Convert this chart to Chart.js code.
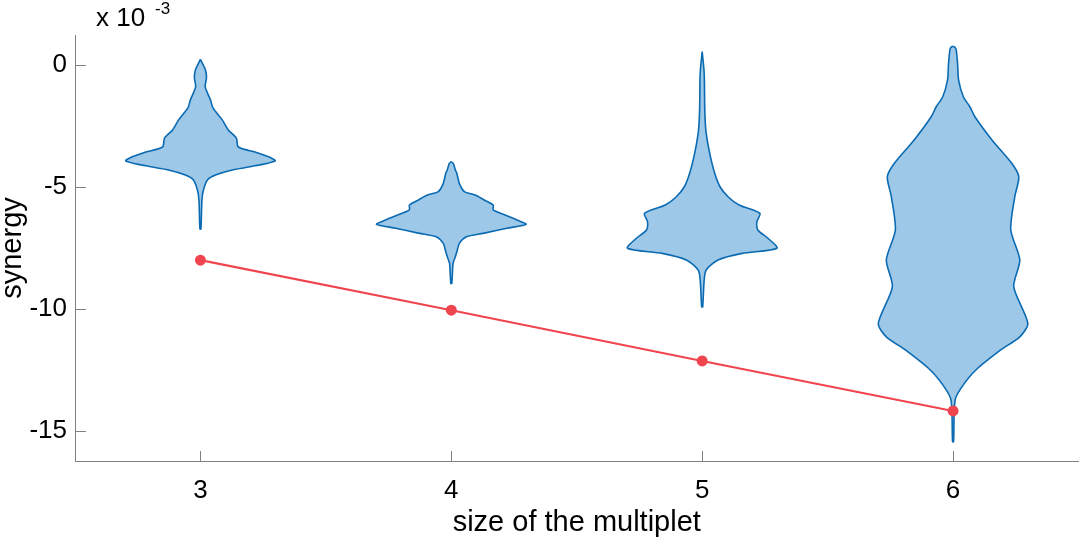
<!DOCTYPE html>
<html>
<head>
<meta charset="utf-8">
<title>synergy vs size of the multiplet</title>
<script src="https://cdn.jsdelivr.net/npm/chart.js@4.4.1/dist/chart.umd.min.js"></script>
<style>
  html, body { margin: 0; padding: 0; background: #fff; }
  #wrap { width: 1084px; height: 542px; }
</style>
</head>
<body>
<div id="wrap"><canvas id="chart" width="1084" height="542"></canvas></div>
<script>
// all synergy values in units of 1e-3 (axis reads "x 10^-3")
const sizes = [3, 4, 5, 6];
const lineValues = [-8.0, -10.05, -12.13, -14.18];
const xTicks = [3, 4, 5, 6];
const yTicks = [-15, -10, -5, 0];

// violin outlines: synergy levels (top -> bottom) and half width in x units
const violin3Levels = [0.23, -0.20, -0.53, -0.90, -1.43, -1.76, -2.25, -2.66, -2.99, -3.36, -3.57, -3.77, -3.93, -4.10, -4.30, -4.51, -4.71, -5.12, -5.53, -6.72];
const violin3Half   = [0.000, 0.020, 0.024, 0.019, 0.040, 0.050, 0.087, 0.111, 0.143, 0.151, 0.218, 0.274, 0.298, 0.234, 0.127, 0.060, 0.028, 0.012, 0.006, 0.002];

const violin4Levels = [-3.96, -4.03, -4.30, -4.44, -4.85, -5.19, -5.33, -5.53, -5.74, -5.94, -6.15, -6.35, -6.53, -6.69, -6.90, -7.04, -7.31, -7.58, -7.86, -8.13, -8.95];
const violin4Half   = [0.000, 0.008, 0.016, 0.022, 0.032, 0.052, 0.095, 0.131, 0.167, 0.167, 0.214, 0.262, 0.298, 0.222, 0.127, 0.060, 0.032, 0.024, 0.016, 0.007, 0.002];

const violin5Levels = [0.55, -0.34, -1.71, -2.30, -2.80, -3.62, -4.44, -4.99, -5.40, -5.74, -6.08, -6.42, -6.76, -7.10, -7.51, -7.72, -7.99, -8.40, -8.81, -9.91];
const violin5Half   = [0.000, 0.008, 0.010, 0.012, 0.016, 0.030, 0.050, 0.071, 0.103, 0.147, 0.230, 0.218, 0.222, 0.262, 0.298, 0.159, 0.063, 0.016, 0.008, 0.002];

const violin6Levels = [0.75, 0.65, 0.07, -0.61, -1.30, -1.71, -2.12, -3.07, -4.03, -4.58, -5.40, -6.76, -7.99, -9.09, -10.59, -11.14, -11.68, -12.50, -13.18, -13.73, -15.44];
const violin6Half   = [0.006, 0.012, 0.018, 0.022, 0.041, 0.067, 0.087, 0.155, 0.234, 0.262, 0.246, 0.230, 0.266, 0.242, 0.298, 0.266, 0.190, 0.091, 0.036, 0.008, 0.002];

const FONT = "'Liberation Sans', Arial, Helvetica, sans-serif";
const VIOLIN_FILL = '#9ec8e8';
const VIOLIN_EDGE = '#0a6ab2';
const RED = '#f0454f';

// closed outline: down the right side, back up the left side
function violinOutline(center, levels, half) {
  const pts = [];
  for (let i = 0; i < levels.length; i++) pts.push({ x: center + half[i], y: levels[i] });
  for (let i = levels.length - 1; i >= 0; i--) pts.push({ x: center - half[i], y: levels[i] });
  pts.push(pts[0]);
  return pts;
}

function violinDataset(center, levels, half) {
  return {
    data: violinOutline(center, levels, half),
    borderColor: VIOLIN_EDGE,
    backgroundColor: VIOLIN_FILL,
    borderWidth: 1.6,
    pointRadius: 0,
    tension: 0.25,
    fill: 'shape',
    order: 1
  };
}

// inward tick marks + the exponent label
const axisDecor = {
  id: 'axisDecor',
  afterDraw(chart) {
    const { ctx, chartArea, scales } = chart;
    ctx.save();
    ctx.strokeStyle = '#808080';
    ctx.lineWidth = 1;
    ctx.beginPath();
    scales.x.ticks.forEach(t => {
      const px = Math.round(scales.x.getPixelForValue(t.value)) + 0.5;
      ctx.moveTo(px, chartArea.bottom);
      ctx.lineTo(px, chartArea.bottom - 10);
    });
    scales.y.ticks.forEach(t => {
      const py = Math.round(scales.y.getPixelForValue(t.value)) + 0.5;
      ctx.moveTo(chartArea.left, py);
      ctx.lineTo(chartArea.left + 11, py);
    });
    ctx.stroke();

    ctx.fillStyle = '#000';
    ctx.textBaseline = 'alphabetic';
    ctx.font = '26px ' + FONT;
    ctx.fillText('x 10', chartArea.left + 21, 26);
    ctx.font = '17px ' + FONT;
    ctx.fillText('-3', chartArea.left + 80, 14);
    ctx.restore();
  }
};

new Chart(document.getElementById('chart'), {
  type: 'line',
  data: {
    datasets: [
      {
        data: sizes.map((s, i) => ({ x: s, y: lineValues[i] })),
        borderColor: RED,
        backgroundColor: RED,
        borderWidth: 2.2,
        pointRadius: 5.5,
        pointBorderWidth: 0,
        pointBackgroundColor: RED,
        fill: false,
        order: 0
      },
      violinDataset(3, violin3Levels, violin3Half),
      violinDataset(4, violin4Levels, violin4Half),
      violinDataset(5, violin5Levels, violin5Half),
      violinDataset(6, violin6Levels, violin6Half)
    ]
  },
  options: {
    responsive: false,
    animation: false,
    layout: { padding: { top: 35, right: 1, left: 0, bottom: 0 } },
    plugins: { legend: { display: false }, tooltip: { enabled: false } },
    scales: {
      x: {
        type: 'linear',
        min: 2.5,
        max: 6.5,
        afterBuildTicks: s => { s.ticks = xTicks.map(v => ({ value: v })); },
        afterFit: s => { s.height = 81; },
        grid: { display: false, drawTicks: false },
        border: { display: true, color: '#808080', width: 1 },
        ticks: { color: '#000', padding: 14, font: { family: FONT, size: 26 } },
        title: {
          display: true,
          text: 'size of the multiplet',
          color: '#000',
          font: { family: FONT, size: 29, lineHeight: 1.2 },
          padding: { top: 0, bottom: 2 }
        }
      },
      y: {
        type: 'linear',
        min: -16.23,
        max: 1.23,
        afterBuildTicks: s => { s.ticks = yTicks.map(v => ({ value: v })); },
        afterFit: s => { s.width = 75; },
        grid: { display: false, drawTicks: false },
        border: { display: true, color: '#808080', width: 1 },
        ticks: { color: '#000', padding: 8, font: { family: FONT, size: 26 } },
        title: {
          display: true,
          text: 'synergy',
          color: '#000',
          font: { family: FONT, size: 29, lineHeight: 0.9 },
          padding: { top: 0, bottom: 0 }
        }
      }
    }
  },
  plugins: [axisDecor]
});
</script>
</body>
</html>
